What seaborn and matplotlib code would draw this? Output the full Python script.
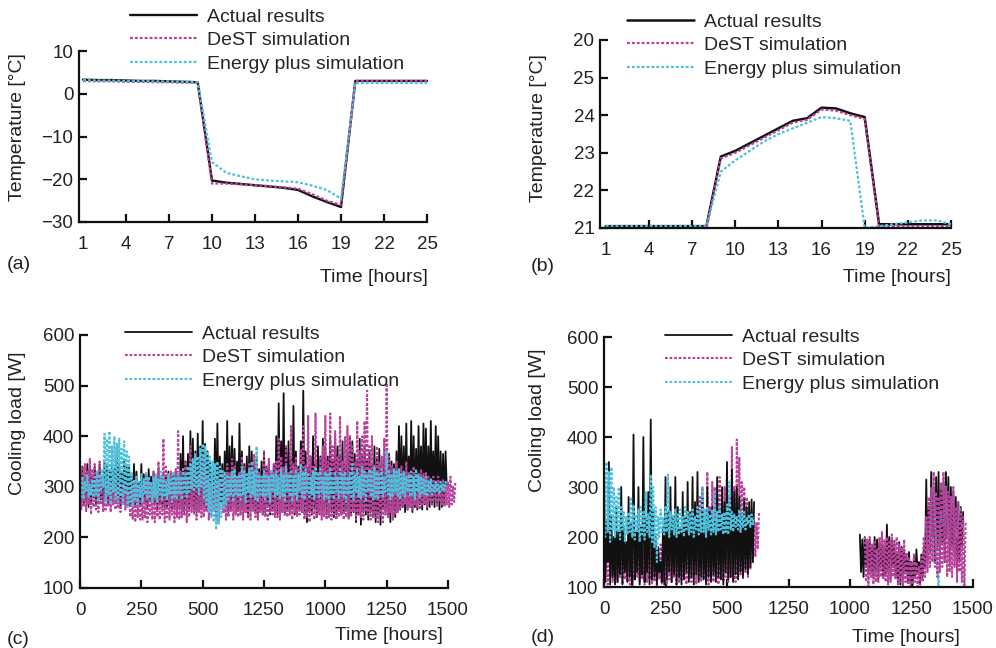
import numpy as np
import matplotlib
matplotlib.use("Agg")
import matplotlib.pyplot as plt
import seaborn as sns

# ---- (a) / (b) hourly temperatures ----
hours = list(range(1, 26))
a_actual = [3.3, 3.2, 3.2, 3.1, 3.0, 3.0, 2.9, 2.8, 2.7, -20.3, -20.8, -21.1, -21.4,
            -21.7, -22.0, -22.5, -24.0, -25.3, -26.5, 3.0, 3.0, 3.0, 3.0, 3.0, 3.0]
a_dest = [3.0, 2.9, 2.9, 2.8, 2.8, 2.7, 2.7, 2.6, 2.6, -21.0, -21.0, -21.2, -21.4,
          -21.6, -21.9, -22.2, -23.5, -25.0, -26.0, 3.0, 3.0, 3.0, 3.0, 3.0, 3.0]
a_eplus = [3.2, 3.1, 3.1, 3.0, 3.0, 2.9, 2.9, 2.8, 2.7, -16.0, -18.5, -19.3, -20.0,
           -20.3, -20.5, -20.7, -21.5, -22.5, -24.5, 2.5, 2.5, 2.5, 2.5, 2.5, 2.5]

b_actual = [21.05, 21.05, 21.05, 21.05, 21.05, 21.05, 21.05, 21.05, 22.9, 23.05, 23.25,
            23.45, 23.65, 23.85, 23.92, 24.2, 24.18, 24.05, 23.95, 21.1, 21.1, 21.1,
            21.1, 21.1, 21.1]
b_dest = [21.0, 21.0, 21.0, 21.0, 21.0, 21.0, 21.0, 21.0, 22.85, 23.0, 23.2, 23.4,
          23.6, 23.8, 23.88, 24.15, 24.12, 24.0, 23.9, 21.05, 21.05, 21.05, 21.05,
          21.05, 21.05]
b_eplus = [21.05, 21.05, 21.05, 21.05, 21.05, 21.05, 21.05, 21.05, 22.5, 22.8, 23.05,
           23.3, 23.5, 23.65, 23.8, 23.95, 23.92, 23.85, 21.0, 21.05, 21.1, 21.15,
           21.2, 21.2, 21.1]

# ---- (c) cooling load, 5 h samples (one row = 50 h) ----
c_hours = np.arange(0, 1500, 5)
c_hours_dest = np.arange(0, 1535, 5)
c_actual = [
    330, 270, 340, 265, 320, 275, 345, 260, 335, 270,
    320, 275, 340, 265, 330, 270, 345, 275, 320, 265,
    350, 275, 340, 265, 330, 270, 345, 280, 335, 270,
    380, 270, 345, 260, 330, 275, 350, 265, 340, 270,
    340, 265, 320, 270, 345, 260, 330, 275, 310, 265,
    345, 265, 325, 270, 310, 260, 335, 275, 320, 265,
    330, 270, 320, 255, 335, 265, 315, 260, 325, 255,
    320, 260, 330, 265, 315, 255, 325, 260, 330, 250,
    330, 260, 365, 255, 400, 250, 350, 260, 365, 255,
    410, 260, 395, 255, 370, 250, 405, 260, 380, 255,
    430, 260, 385, 255, 370, 265, 350, 260, 330, 255,
    395, 260, 425, 255, 360, 265, 345, 250, 370, 260,
    430, 250, 380, 255, 400, 260, 375, 250, 350, 255,
    425, 255, 370, 260, 345, 250, 360, 240, 380, 255,
    370, 260, 345, 250, 360, 240, 335, 255, 350, 245,
    370, 250, 340, 260, 355, 245, 330, 255, 345, 250,
    400, 245, 465, 255, 390, 250, 485, 245, 380, 255,
    390, 250, 360, 255, 460, 245, 370, 250, 340, 255,
    390, 250, 490, 245, 370, 230, 340, 250, 360, 245,
    400, 255, 350, 240, 380, 250, 360, 245, 395, 255,
    380, 245, 360, 255, 395, 250, 350, 240, 400, 245,
    380, 255, 360, 245, 390, 250, 345, 255, 370, 240,
    400, 245, 390, 250, 365, 230, 350, 245, 395, 225,
    360, 250, 380, 245, 355, 235, 370, 250, 345, 240,
    380, 230, 355, 245, 375, 225, 350, 255, 360, 250,
    340, 245, 365, 230, 350, 255, 345, 240, 370, 250,
    420, 255, 400, 260, 380, 250, 425, 255, 360, 260,
    430, 250, 400, 260, 375, 255, 420, 265, 380, 255,
    425, 265, 415, 255, 380, 260, 430, 265, 370, 260,
    420, 265, 400, 255, 370, 260, 365, 265, 370, 300,
]
c_dest = [
    350, 255, 340, 260, 345, 250, 330, 265, 355, 245,
    335, 260, 345, 255, 330, 250, 350, 265, 320, 250,
    310, 255, 300, 260, 315, 250, 305, 265, 320, 255,
    300, 260, 310, 250, 295, 265, 305, 255, 300, 260,
    290, 240, 300, 235, 310, 230, 320, 240, 300, 235,
    295, 235, 305, 240, 325, 230, 310, 245, 300, 235,
    330, 230, 315, 240, 350, 235, 320, 245, 395, 230,
    340, 240, 320, 235, 330, 245, 310, 230, 335, 240,
    410, 235, 330, 240, 320, 245, 350, 230, 315, 240,
    380, 250, 340, 245, 360, 235, 320, 250, 335, 240,
    360, 240, 340, 250, 320, 235, 305, 245, 330, 250,
    300, 235, 320, 230, 310, 240, 330, 250, 320, 235,
    345, 240, 330, 250, 355, 235, 340, 245, 320, 240,
    330, 245, 360, 235, 340, 250, 325, 240, 345, 235,
    335, 250, 365, 240, 345, 235, 330, 250, 320, 245,
    370, 240, 340, 235, 355, 250, 330, 245, 345, 240,
    350, 240, 395, 235, 360, 250, 340, 245, 380, 240,
    330, 245, 420, 235, 345, 250, 360, 240, 335, 245,
    375, 250, 420, 235, 345, 240, 440, 230, 360, 245,
    340, 235, 445, 240, 330, 245, 360, 235, 380, 240,
    440, 235, 350, 240, 445, 235, 380, 245, 410, 235,
    360, 240, 440, 245, 350, 235, 400, 240, 420, 235,
    400, 240, 380, 250, 350, 235, 430, 245, 370, 240,
    400, 235, 430, 250, 490, 245, 380, 235, 400, 240,
    345, 240, 380, 230, 350, 240, 360, 230, 395, 245,
    505, 240, 360, 250, 340, 235, 330, 245, 350, 250,
    330, 255, 340, 260, 320, 265, 350, 255, 330, 260,
    325, 255, 340, 265, 330, 260, 320, 255, 335, 265,
    325, 265, 330, 260, 320, 270, 315, 265, 320, 275,
    310, 260, 320, 270, 305, 265, 315, 260, 300, 265,
    310, 260, 320, 265, 300, 270, 310,
]
c_eplus = [
    300, 280, 320, 275, 310, 290, 325, 280, 305, 285,
    315, 275, 320, 285, 330, 270, 325, 290, 335, 300,
    405, 270, 395, 285, 410, 265, 380, 290, 400, 275,
    385, 270, 395, 280, 375, 265, 390, 285, 370, 260,
    360, 270, 330, 260, 315, 275, 320, 265, 310, 280,
    325, 270, 315, 285, 330, 275, 320, 280, 310, 270,
    320, 280, 325, 270, 315, 285, 330, 275, 320, 280,
    310, 275, 325, 285, 315, 270, 330, 280, 320, 275,
    330, 285, 320, 275, 335, 290, 325, 280, 340, 290,
    345, 295, 355, 290, 365, 300, 360, 285, 375, 300,
    385, 275, 380, 265, 370, 250, 360, 240, 350, 230,
    345, 215, 350, 225, 340, 240, 335, 255, 330, 265,
    325, 275, 320, 285, 330, 270, 335, 285, 320, 280,
    325, 275, 340, 285, 330, 270, 325, 290, 335, 280,
    350, 285, 330, 275, 380, 270, 325, 285, 320, 280,
    330, 275, 325, 285, 320, 270, 335, 290, 325, 280,
    330, 285, 320, 275, 335, 280, 325, 270, 340, 290,
    325, 280, 330, 270, 320, 285, 335, 275, 325, 290,
    345, 280, 330, 275, 335, 290, 325, 280, 320, 285,
    330, 275, 340, 285, 325, 280, 335, 290, 320, 275,
    330, 280, 325, 270, 335, 285, 320, 275, 330, 290,
    320, 275, 335, 285, 325, 280, 330, 270, 320, 285,
    330, 280, 345, 275, 325, 290, 335, 280, 320, 275,
    340, 285, 330, 270, 325, 290, 335, 280, 330, 275,
    340, 280, 330, 275, 325, 285, 335, 280, 320, 290,
    370, 285, 330, 275, 325, 280, 335, 290, 330, 280,
    335, 275, 325, 285, 330, 280, 320, 290, 325, 280,
    330, 285, 320, 275, 335, 290, 325, 280, 320, 285,
    315, 285, 320, 280, 310, 290, 315, 285, 305, 290,
    310, 290, 305, 285, 310, 295, 305, 290, 310, 300,
]

# ---- (d) cooling load, two measured periods, 5 h samples ----
d1_hours_actual = np.arange(0, 615, 5)
d1_hours_dest = np.arange(0, 635, 5)
d1_hours_eplus = np.arange(0, 615, 5)
d1_actual = [
    350, 110, 230, 150, 350, 105, 240, 120, 200, 105,
    260, 110, 210, 125, 300, 105, 220, 130, 190, 110,
    280, 120, 230, 105, 405, 115, 210, 130, 300, 105,
    220, 125, 400, 110, 240, 130, 290, 105, 435, 115,
    250, 120, 200, 105, 180, 130, 150, 110, 220, 105,
    320, 115, 250, 130, 300, 110, 240, 125, 320, 105,
    260, 120, 220, 105, 290, 115, 240, 130, 310, 110,
    250, 120, 320, 105, 270, 125, 330, 110, 240, 120,
    280, 115, 220, 105, 300, 120, 250, 110, 260, 125,
    230, 110, 320, 120, 250, 115, 300, 105, 270, 130,
    350, 115, 260, 120, 335, 110, 290, 125, 300, 115,
    280, 130, 240, 120, 275, 135, 260, 125, 270, 140,
    275, 150, 270,
]
d1_dest = [
    150, 110, 180, 105, 160, 120, 170, 110, 190, 115,
    170, 110, 185, 120, 160, 105, 175, 115, 180, 110,
    165, 105, 170, 100, 190, 115, 175, 120, 200, 110,
    185, 115, 175, 105, 190, 110, 180, 115, 170, 105,
    180, 110, 165, 100, 175, 115, 185, 105, 170, 110,
    190, 105, 200, 115, 185, 110, 195, 120, 180, 105,
    200, 110, 190, 115, 210, 120, 200, 105, 230, 115,
    220, 110, 250, 120, 240, 105, 260, 115, 280, 110,
    300, 115, 240, 110, 330, 105, 260, 120, 310, 110,
    300, 120, 280, 105, 320, 115, 260, 110, 300, 120,
    330, 110, 280, 120, 380, 115, 300, 110, 395, 120,
    360, 125, 310, 115, 300, 130, 280, 120, 250, 135,
    250, 150, 240, 160, 230, 175, 250,
]
d1_eplus = [
    240, 200, 350, 210, 330, 190, 340, 215, 300, 200,
    280, 210, 300, 195, 260, 215, 250, 190, 240, 205,
    250, 210, 280, 200, 265, 195, 245, 210, 255, 190,
    260, 205, 250, 195, 290, 210, 245, 200, 325, 190,
    300, 180, 260, 150, 240, 200, 255, 210, 240, 205,
    260, 210, 325, 200, 250, 215, 245, 205, 255, 200,
    245, 205, 255, 210, 240, 200, 260, 215, 250, 205,
    245, 210, 255, 200, 240, 215, 260, 205, 250, 210,
    300, 210, 255, 200, 260, 215, 245, 205, 255, 210,
    290, 205, 250, 210, 260, 215, 245, 205, 250, 210,
    265, 205, 310, 215, 250, 210, 245, 220, 240, 215,
    255, 210, 245, 220, 250, 215, 240, 225, 245, 220,
    245, 225, 240,
]
d2_hours_actual = np.arange(1040, 1465, 5)
d2_hours_dest = np.arange(1060, 1475, 5)
d2_hours_eplus = np.arange(1320, 1465, 5)
d2_actual = [
    205, 130, 195, 120, 200, 140, 190, 125, 195, 130,
    180, 120, 200, 130, 195, 115, 190, 140, 185, 120,
    180, 125, 225, 130, 200, 115, 195, 140, 185, 120,
    170, 110, 190, 105, 180, 120, 175, 130, 160, 110,
    170, 110, 150, 105, 160, 120, 175, 130, 150, 105,
    165, 120, 180, 140, 315, 150, 260, 170, 330, 200,
    300, 150, 320, 180, 330, 160, 300, 190, 310, 150,
    330, 200, 320, 150, 300, 180, 290, 160, 280, 130,
    270, 150, 260, 180, 250,
]
d2_dest = [
    200, 110, 195, 100, 200, 120, 185, 105, 190, 110,
    175, 110, 200, 120, 210, 115, 195, 110, 200, 105,
    190, 110, 205, 120, 195, 115, 200, 105, 185, 110,
    180, 100, 195, 110, 170, 105, 160, 100, 150, 105,
    165, 110, 150, 100, 140, 105, 160, 110, 200, 120,
    240, 130, 280, 140, 300, 150, 330, 140, 290, 120,
    280, 130, 310, 140, 330, 150, 300, 120, 290, 130,
    280, 120, 300, 140, 260, 110, 270, 130, 250, 110,
    240, 100, 230,
]
d2_eplus = [170, 210, 250, 280, 300, 240, 180, 140, 100, 200,
            250, 230, 220, 260, 300, 250, 200, 230, 260, 280,
            270, 220, 210, 200, 240, 260, 230, 220, 230]

labels = ["Actual results", "DeST simulation", "Energy plus simulation"]
xt_hours = [1, 4, 7, 10, 13, 16, 19, 22, 25]
xt_load = [0, 250, 500, 750, 1000, 1250, 1500]
xt_load_labels = ["0", "250", "500", "1250", "1000", "1250", "1500"]

BLACK = "#111111"
DEST = "#b9429c"
EPLUS = "#4ec2dd"
DOT = (0, (1.3, 0.9))
FS = 14
TS = 13.5

sns.set_theme(style="ticks")
plt.rcParams["font.family"] = ["Liberation Sans", "DejaVu Sans"]

W, H = 996, 648
fig = plt.figure(figsize=(W / 100, H / 100), dpi=100)


def box(x0, y0, x1, y1):
    return [x0 / W, 1 - y1 / H, (x1 - x0) / W, (y1 - y0) / H]


def style(ax):
    sns.despine(ax=ax)
    for s in ["left", "bottom"]:
        ax.spines[s].set_linewidth(1.6)
        ax.spines[s].set_color(BLACK)
    ax.tick_params(direction="in", length=6, width=1.6, labelsize=TS,
                   colors=BLACK, labelcolor="#222222")
    ax.tick_params(axis="x", pad=10)
    ax.tick_params(axis="y", pad=4)
    ax.set_xlabel("")
    ax.set_ylabel("")
    ax.set_facecolor("white")


def draw(ax, x, y, kind, label=None, lw=None):
    if kind == "actual":
        sns.lineplot(x=x, y=y, ax=ax, color=BLACK, lw=lw or 1.4, estimator=None,
                     sort=False, label=label, clip_on=False)
    else:
        sns.lineplot(x=x, y=y, ax=ax, color=DEST if kind == "dest" else EPLUS,
                     lw=lw or 1.6, linestyle=DOT, estimator=None, sort=False,
                     label=label, clip_on=False)
    return ax.lines[-1]


def legend(ax, handles, px, py):
    ax.legend(handles, labels, loc="upper left", bbox_to_anchor=(px / W, 1 - py / H),
              bbox_transform=fig.transFigure, frameon=False, fontsize=FS,
              handlelength=3.45, handletextpad=0.5, labelspacing=0.31,
              borderpad=0, borderaxespad=0)


# (a)
ax = fig.add_axes(box(79, 51, 427, 222))
h = [draw(ax, hours, a_actual, "actual", labels[0], lw=1.7),
     draw(ax, hours, a_dest, "dest", labels[1]),
     draw(ax, hours, a_eplus, "eplus", labels[2])]
ax.set_xlim(0.72, 25)
ax.set_ylim(-30, 10)
ax.set_xticks(xt_hours)
ax.set_yticks([-30, -20, -10, 0, 10])
style(ax)
ax.xaxis.get_major_ticks()[0].tick1line.set_visible(False)
legend(ax, h, 130, 8)

# (b)
ax = fig.add_axes(box(600, 40, 951, 228))
h = [draw(ax, hours, b_actual, "actual", labels[0], lw=1.8),
     draw(ax, hours, b_dest, "dest", labels[1]),
     draw(ax, hours, b_eplus, "eplus", labels[2])]
ax.set_xlim(0.6, 25)
ax.set_ylim(21, 26)
ax.set_xticks(xt_hours)
ax.set_yticks([21, 22, 23, 24, 25, 26])
ax.set_yticklabels(["21", "22", "23", "24", "25", "20"])
style(ax)
ax.xaxis.get_major_ticks()[0].tick1line.set_visible(False)
legend(ax, h, 627, 13)

# (c)
ax = fig.add_axes(box(80, 335, 448, 588))
h = [draw(ax, c_hours, c_actual, "actual", labels[0], lw=1.3),
     draw(ax, c_hours_dest, c_dest, "dest", labels[1], lw=1.5),
     draw(ax, c_hours, c_eplus, "eplus", labels[2], lw=1.5)]
ax.set_xlim(0, 1500)
ax.set_ylim(100, 600)
ax.set_xticks(xt_load)
ax.set_xticklabels(xt_load_labels)
ax.set_yticks([100, 200, 300, 400, 500, 600])
style(ax)
legend(ax, h, 125, 325)

# (d)
ax = fig.add_axes(box(604, 337, 973, 587))
hd = draw(ax, d1_hours_dest, d1_dest, "dest", labels[1], lw=1.5)
ha = draw(ax, d1_hours_actual, d1_actual, "actual", labels[0], lw=1.3)
he = draw(ax, d1_hours_eplus, d1_eplus, "eplus", labels[2], lw=1.5)
draw(ax, d2_hours_actual, d2_actual, "actual", lw=1.3)
draw(ax, d2_hours_eplus, d2_eplus, "eplus", lw=1.5)
draw(ax, d2_hours_dest, d2_dest, "dest", lw=1.5)
ax.set_xlim(0, 1500)
ax.set_ylim(100, 600)
ax.set_xticks(xt_load)
ax.set_xticklabels(xt_load_labels)
ax.set_yticks([100, 200, 300, 400, 500, 600])
style(ax)
legend(ax, [ha, hd, he], 665, 328)


# axis titles and panel tags
def ftext(px, py, s, **kw):
    fig.text(px / W, 1 - py / H, s, fontsize=FS, color="#222222", va="center", **kw)


ftext(18, 127, "Temperature [°C]", rotation=90, ha="center")
ftext(538, 128, "Temperature [°C]", rotation=90, ha="center")
ftext(17, 423, "Cooling load [W]", rotation=90, ha="center")
ftext(537, 420, "Cooling load [W]", rotation=90, ha="center")
ftext(428, 277, "Time [hours]", ha="right")
ftext(951, 277, "Time [hours]", ha="right")
ftext(443, 635, "Time [hours]", ha="right")
ftext(960, 638, "Time [hours]", ha="right")
ftext(7, 265, "(a)", ha="left")
ftext(531, 267, "(b)", ha="left")
ftext(7, 639, "(c)", ha="left")
ftext(531, 638, "(d)", ha="left")

fig.savefig("out.png", dpi=100, facecolor="white")
